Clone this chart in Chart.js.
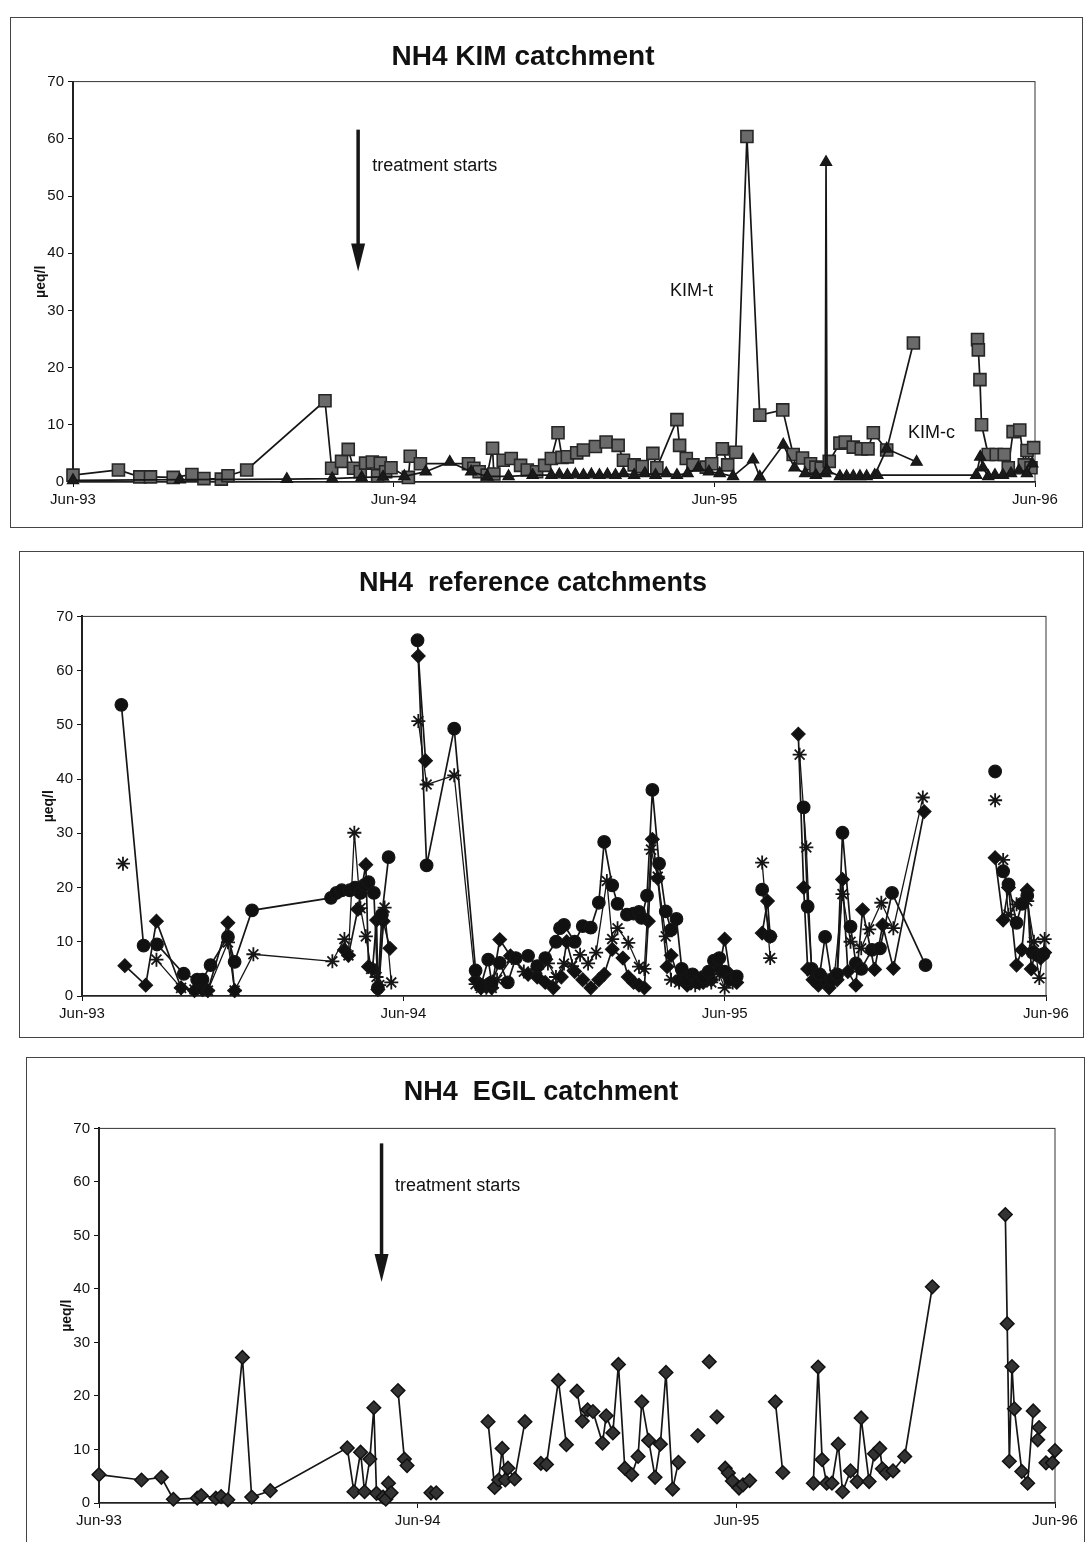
<!DOCTYPE html>
<html lang="en">
<head>
<meta charset="UTF-8">
<title>NH4 catchments</title>
<script src="https://cdn.jsdelivr.net/npm/chart.js"></script>
<style>
  html, body { margin: 0; padding: 0; background: #fff; }
  body { width: 1087px; height: 1542px; position: relative; overflow: hidden; }
  .frame { position: absolute; border: 1px solid #444; box-sizing: border-box; }
  .frame canvas { position: absolute; left: 0; top: 0; }
</style>
</head>
<body>
<div class="frame" style="left:10px;top:17px;width:1073px;height:511px;"><canvas id="kim" width="1071" height="509"></canvas></div>
<div class="frame" style="left:19px;top:551px;width:1065px;height:487px;"><canvas id="ref" width="1063" height="485"></canvas></div>
<div class="frame" style="left:26px;top:1057px;width:1059px;height:500px;"><canvas id="egil" width="1057" height="498"></canvas></div>

<script>
Chart.defaults.font.family = "'Liberation Sans', Arial, sans-serif";
Chart.defaults.color = '#111';

// x values are months after 1 June 1993
const tickLabels = ['Jun-93', 'Jun-94', 'Jun-95', 'Jun-96'];

// KIM catchment
const kimTMonths = [0, 1.7, 2.5, 2.9, 3.75, 4.45, 4.9, 5.55, 5.8, 6.5, 9.43, 9.68, 10.05, 10.3, 10.5, 10.75, 10.95, 11.2, 11.4, 11.5, 11.7, 11.9, 12.55, 12.62, 13.0,
  14.8, 15.0, 15.2, 15.5, 15.7, 15.75, 16.1, 16.4, 16.75, 17.0, 17.35, 17.65, 17.9, 18.15, 18.3, 18.5, 18.85, 19.1, 19.55, 19.95, 20.4, 20.6, 21.0, 21.3, 21.7, 21.85,
  22.6, 22.7, 22.95, 23.2, 23.7, 23.9, 24.3, 24.5, 24.8, 25.22, 25.7, 26.56, 26.95, 27.3, 27.6, 27.8, 28.0, 28.3, 28.7, 28.9, 29.2, 29.5, 29.75, 29.95, 30.45, 31.45,
  32.5, 33.85, 33.88, 33.94, 34.0, 34.25, 34.55, 34.85, 35.0, 35.18, 35.43, 35.6, 35.7, 35.85, 35.95];
const kimTValues = [1.2, 2.1, 0.9, 0.9, 0.8, 1.3, 0.6, 0.5, 1.1, 2.1, 14.2, 2.4, 3.6, 5.7, 2.4, 1.8, 3.3, 3.5, 1.1, 3.3, 1.8, 2.5, 0.8, 4.5, 3.2,
  3.2, 2.4, 1.8, 1.2, 5.9, 1.4, 3.8, 4.1, 2.9, 2.1, 1.8, 2.9, 4.1, 8.6, 4.3, 4.4, 5.1, 5.6, 6.2, 7.0, 6.4, 3.8, 3.0, 2.7, 5.0, 2.5,
  10.9, 6.4, 4.1, 3.0, 2.6, 3.2, 5.8, 3.0, 5.2, 60.4, 11.7, 12.6, 4.8, 4.2, 3.2, 2.6, 2.4, 3.6, 6.8, 7.0, 6.1, 5.8, 5.8, 8.6, 5.6, 24.3,
  null, 24.9, 23.1, 17.9, 10.0, 4.8, 4.8, 4.8, 2.5, 8.8, 9.1, 3.0, 5.5, 2.5, 6.0];
const kimCMonths = [0, 4, 8, 9.7, 10.8, 11.6, 12.4, 13.2, 14.1, 14.9, 15.5, 16.3, 17.2, 17.9, 18.2, 18.5, 18.8, 19.1, 19.4, 19.7, 20.0, 20.3, 20.6, 21.0, 21.4,
  21.8, 22.2, 22.6, 23.0, 23.4, 23.8, 24.2, 24.7, 25.45, 25.7, 26.58, 27.0, 27.4, 27.8, 28.15, 28.18, 28.22, 28.7, 28.95, 29.2, 29.45, 29.7, 30.0, 30.45, 31.57,
  31.6, 30.1, 33.8, 33.95, 34.05, 34.25, 34.5, 34.8, 35.1, 35.4, 35.7, 35.9];
const kimCValues = [0.3, 0.4, 0.5, 0.6, 0.8, 0.9, 1.0, 1.8, 3.5, 1.8, 1.0, 1.0, 1.2, 1.2, 1.3, 1.2, 1.3, 1.2, 1.3, 1.2, 1.3, 1.2, 1.5, 1.2, 1.5,
  1.2, 1.5, 1.2, 1.5, 2.5, 1.8, 1.5, 1.0, 3.9, 0.9, 6.5, 2.5, 1.5, 1.2, 1.5, 55.9, 2.0, 1.0, 1.0, 1.0, 1.0, 1.0, 1.2, 5.8, 3.5,
  null, 1.2, 1.2, 4.4, 2.5, 1.0, 1.2, 1.2, 1.5, 2.0, 1.5, 3.2];

// reference catchments
const refAMonths = [1.47, 2.3, 2.8, 3.8, 4.3, 4.5, 4.8, 5.45, 5.7, 6.35, 9.3, 9.5, 9.7, 10.0, 10.2, 10.4, 10.55, 10.7, 10.9, 11.05, 11.2, 11.45,
  12.0, 12.53, 12.87, 13.9, 14.7, 14.9, 15.17, 15.3, 15.6, 15.9, 16.2, 16.66, 17.0, 17.3, 17.7, 17.85, 18.0, 18.4, 18.7, 19.0, 19.3, 19.5, 19.8, 20.0,
  20.35, 20.6, 20.8, 20.9, 21.1, 21.3, 21.55, 21.8, 22.0, 22.2, 22.4, 22.6, 22.8, 23.0, 23.2, 23.4, 23.6, 23.8, 24.0, 24.2, 24.45,
  25.0, 25.4, 25.7, 26.3, 26.95, 27.1, 27.25, 27.4, 27.55, 27.75, 28.0, 28.2, 28.4, 28.7, 28.9, 29.1, 29.5, 29.8, 30.25, 31.5,
  32.5, 34.1, 34.2, 34.4, 34.6, 34.9, 35.1, 35.3, 35.5, 35.7, 35.9];
const refAValues = [53.7, 9.3, 9.5, 4.1, 3.0, 3.0, 5.7, 10.9, 6.3, 15.8, 18.1, 19.0, 19.5, 19.5, 20.0, 19.0, 20.5, 21.0, 19.0, 1.5, 15.0, 25.6,
  null, 65.6, 24.1, 49.3, 4.7, 2.0, 6.7, 2.5, 6.1, 2.5, 7.0, 7.4, 5.5, 7.0, 10.0, 12.5, 13.1, 10.0, 12.9, 12.6, 17.2, 28.4, 20.4, 17.0,
  15.0, 15.2, 15.5, 14.4, 18.5, 38.0, 24.4, 15.6, 12.2, 14.2, 5.0, 3.0, 4.0, 2.5, 3.5, 4.5, 6.5, 7.0, 4.5, 3.0, 3.6,
  null, 19.6, 11.0, null, 34.8, 16.5, 5.0, 3.0, 4.0, 10.9, 3.0, 4.0, 30.1, 12.8, 6.0, 5.0, 8.5, 8.8, 19.0, 5.7,
  null, 41.4, null, 23.0, 20.6, 13.5, 17.0, 18.5, 8.0, 7.5, 7.7];
const refBMonths = [1.6, 2.38, 2.78, 3.7, 4.2, 4.5, 4.7, 5.45, 5.7, 7.5, 9.8, 9.95, 10.3, 10.6, 10.7, 10.85, 11.0, 11.05, 11.25, 11.5,
  12.0, 12.56, 12.83, 13.5, 14.7, 14.9, 15.1, 15.3, 15.6, 16.0, 16.66, 17.0, 17.3, 17.6, 17.9, 18.1, 18.4, 18.7, 19.0, 19.3, 19.5, 19.8,
  20.2, 20.4, 20.6, 20.8, 21.0, 21.15, 21.3, 21.5, 21.85, 22.0, 22.3, 22.6, 22.9, 23.2, 23.5, 23.8, 24.0, 24.2, 24.45,
  25.0, 25.4, 25.6, 25.7, 26.3, 26.75, 26.95, 27.1, 27.3, 27.5, 27.7, 27.9, 28.2, 28.4, 28.6, 28.9, 29.15, 29.6, 29.9, 30.3, 31.45,
  32.5, 34.1, 34.4, 34.6, 34.9, 35.1, 35.3, 35.45, 35.6, 35.8, 35.95];
const refBValues = [5.6, 2.0, 13.8, 1.5, 1.0, 1.2, 1.0, 13.5, 1.0, null, 8.5, 7.5, 16.0, 24.2, 5.4, 5.0, 14.0, 1.2, 13.8, 8.8,
  null, 62.7, 43.4, null, 3.0, 1.5, 2.0, 1.5, 10.4, 7.4, 4.0, 3.5, 2.5, 1.5, 3.5, 10.0, 4.5, 3.0, 1.5, 3.0, 4.0, 8.6,
  7.0, 3.5, 2.5, 2.0, 1.5, 13.8, 28.9, 21.7, 5.4, 7.5, 3.0, 2.0, 3.0, 2.5, 3.0, 5.0, 10.5, 4.0, 2.5,
  null, 11.6, 17.5, 11.0, null, 48.3, 20.0, 5.0, 3.0, 2.0, 3.0, 1.5, 3.0, 21.5, 4.5, 2.0, 15.9, 4.9, 13.1, 5.1, 34.0,
  null, 25.5, 14.0, 20.0, 5.7, 8.5, 19.5, 5.0, 8.0, 7.0, 8.0];
const refCMonths = [1.53, 2.0, 2.78, 3.7, 4.2, 4.5, 4.7, 5.45, 5.7, 6.4, 9.35, 9.8, 9.95, 10.17, 10.4, 10.6, 10.8, 11.0, 11.1, 11.3, 11.55,
  12.0, 12.56, 12.87, 13.9, 14.7, 14.9, 15.1, 15.3, 15.5, 16.05, 16.5, 17.0, 17.4, 17.7, 18.0, 18.3, 18.6, 18.9, 19.2, 19.6, 19.8, 20.0,
  20.4, 20.8, 21.0, 21.25, 21.5, 21.8, 22.0, 22.3, 22.6, 22.9, 23.2, 23.5, 23.8, 24.0, 24.3,
  25.0, 25.4, 25.7, 26.3, 26.8, 27.05, 27.25, 27.5, 27.8, 28.1, 28.4, 28.7, 29.1, 29.4, 29.85, 30.3, 31.4,
  32.5, 34.1, 34.2, 34.4, 34.6, 34.9, 35.3, 35.55, 35.75, 35.95];
const refCValues = [24.4, null, 6.7, 1.5, 1.2, 1.2, 1.0, 9.9, 1.0, 7.7, 6.4, 10.5, 7.5, 30.1, 16.2, 11.0, 5.0, 3.5, 2.0, 16.3, 2.5,
  null, 50.7, 39.0, 40.7, 2.2, 1.5, 1.5, 1.5, 3.0, 7.0, 4.5, 5.0, 6.0, 3.5, 6.0, 5.5, 7.6, 6.0, 8.0, 21.2, 10.5, 12.5,
  9.8, 5.4, 5.0, 27.0, 22.0, 11.0, 3.0, 2.5, 4.0, 2.0, 3.0, 2.5, 4.0, 1.5, 2.5,
  null, 24.6, 7.0, null, 44.5, 27.4, 4.6, 3.5, 3.0, 4.0, 18.8, 10.0, 8.8, 12.3, 17.2, 12.5, 36.6,
  null, 36.1, null, 25.1, 15.0, 16.9, 17.5, 10.0, 3.3, 10.5];

// EGIL catchment
const egilMonths = [0, 1.6, 2.35, 2.8, 3.7, 3.85, 4.4, 4.6, 4.85, 5.4, 5.75, 6.45, 9.35, 9.6, 9.85, 10.0, 10.2, 10.35, 10.45, 10.7, 10.8, 10.9, 11.0,
  11.1, 11.26, 11.5, 11.6, 12.0, 12.5, 12.7, 13.5, 14.65, 14.9, 15.05, 15.18, 15.3, 15.4, 15.65, 16.04, 16.3, 16.64, 16.85, 17.3, 17.6, 17.8,
  18.0, 18.2, 18.4, 18.6, 18.96, 19.1, 19.35, 19.56, 19.8, 20.06, 20.3, 20.44, 20.7, 20.94, 21.14, 21.35, 21.6, 21.82,
  22.2, 22.55, 22.7, 22.98, 23.1, 23.27, 23.4, 23.58, 23.7, 23.85, 24.1, 24.25, 24.5, 25.0, 25.47, 25.75, 26.3,
  26.9, 27.08, 27.23, 27.4, 27.6, 27.84, 28.0, 28.3, 28.55, 28.7, 29.0, 29.2, 29.4, 29.5, 29.65, 29.9, 30.34, 31.38,
  32.5, 34.13, 34.2, 34.28, 34.38, 34.47, 34.75, 34.97, 35.18, 35.3, 35.35, 35.38, 35.4, 35.5, 35.66, 35.9, 36.0];
const egilValues = [5.3, 4.3, 4.8, 0.7, 0.9, 1.4, 0.9, 1.2, 0.6, 27.2, 1.1, 2.3, 10.3, 2.1, 9.5, 2.1, 8.2, 17.8, 1.8, 1.1, 0.7, 3.7, 1.9,
  null, 21.0, 8.2, 7.0, null, 1.9, 1.9, null, 15.2, 2.9, 4.3, 10.2, 4.3, 6.5, 4.5, 15.2, null, 7.4, 7.2, 22.9, 10.9, null,
  20.9, 15.3, 17.4, 17.1, 11.2, 16.3, 13.1, 25.9, 6.5, 5.3, 8.7, 18.9, 11.7, 4.8, 11.0, 24.4, 2.6, 7.6,
  null, 12.6, null, 26.4, null, 16.1, null, 6.5, 5.6, 4.1, 2.8, 3.4, 4.2, null, 18.9, 5.7, null,
  3.7, 25.4, 8.1, 3.7, 3.7, 11.0, 2.1, 6.0, 4.0, 15.9, 4.0, 9.2, 10.2, 6.4, 5.6, 6.0, 8.7, 40.4,
  null, 53.9, 33.5, 7.8, 25.5, 17.6, 5.9, 3.7, 17.2, null, 11.8, null, 14.1, null, 7.5, 7.5, 9.8];

function pts(months, values) {
  return months.map((m, i) => ({ x: m, y: values[i] }));
}

const lineCol = '#161616';

// plot frame, arrow and free text labels
const frameAndNotes = {
  id: 'frameAndNotes',
  beforeDatasetsDraw(chart) {
    const { ctx, chartArea: a } = chart;
    ctx.save();
    ctx.strokeStyle = '#333';
    ctx.lineWidth = 1;
    ctx.strokeRect(a.left, a.top, a.right - a.left, a.bottom - a.top);
    ctx.restore();
  },
  afterDatasetsDraw(chart, args, opts) {
    const { ctx, scales: { x, y } } = chart;
    (opts.arrows || []).forEach(ar => {
      const px = x.getPixelForValue(ar.x);
      const top = y.getPixelForValue(ar.from);
      const tip = y.getPixelForValue(ar.to);
      ctx.save();
      ctx.strokeStyle = lineCol;
      ctx.fillStyle = lineCol;
      ctx.lineWidth = 3.5;
      ctx.beginPath();
      ctx.moveTo(px, top);
      ctx.lineTo(px, tip - 22);
      ctx.stroke();
      ctx.beginPath();
      ctx.moveTo(px - 7, tip - 28);
      ctx.lineTo(px + 7, tip - 28);
      ctx.lineTo(px, tip);
      ctx.closePath();
      ctx.fill();
      ctx.restore();
    });
    (opts.labels || []).forEach(l => {
      ctx.save();
      ctx.font = "18px 'Liberation Sans', Arial, sans-serif";
      ctx.fillStyle = '#111';
      ctx.textBaseline = 'middle';
      ctx.fillText(l.text, x.getPixelForValue(l.x), y.getPixelForValue(l.y));
      ctx.restore();
    });
  }
};

function makeChart(id, title, datasets, box, notes) {
  return new Chart(document.getElementById(id), {
    type: 'line',
    data: { datasets: datasets },
    options: {
      responsive: false,
      animation: false,
      events: [],
      layout: { padding: { left: 0, right: box.padRight, top: 0, bottom: box.padBottom } },
      plugins: {
        legend: { display: false },
        tooltip: { enabled: false },
        title: {
          display: true, text: title, color: '#111',
          font: { size: box.titleSize, weight: 'bold' },
          padding: { top: box.titleTop, bottom: box.titleBottom }
        },
        frameAndNotes: notes
      },
      scales: {
        x: {
          type: 'linear', min: 0, max: 36,
          afterBuildTicks: s => { s.ticks = [0, 12, 24, 36].map(v => ({ value: v })); },
          afterFit: s => { s.height = 40; },
          ticks: { callback: v => tickLabels[Math.round(v / 12)], font: { size: 15 }, color: '#111', maxRotation: 0, autoSkip: false, padding: 4 },
          grid: { drawOnChartArea: false, tickLength: 5, color: '#111' },
          border: { color: '#111', width: 1.5 }
        },
        y: {
          min: 0, max: 70,
          afterFit: s => { s.width = box.yWidth; },
          ticks: { stepSize: 10, font: { size: 15 }, color: '#111', padding: 4 },
          grid: { drawOnChartArea: false, tickLength: 5, color: '#111' },
          border: { color: '#111', width: 2 },
          title: { display: true, text: 'µeq/l', color: '#111', font: { size: 14, weight: 'bold' }, padding: { top: box.yTitle, bottom: 0 } }
        }
      }
    },
    plugins: [frameAndNotes]
  });
}

function series(data, style, radius, fill, extra) {
  return Object.assign({
    data: data,
    borderColor: lineCol,
    borderWidth: 1.7,
    pointStyle: style,
    pointRadius: radius,
    pointBackgroundColor: fill,
    pointBorderColor: lineCol,
    pointBorderWidth: 1.2,
    tension: 0,
    clip: false
  }, extra || {});
}

makeChart('kim', 'NH4 KIM catchment', [
  series(pts(kimCMonths, kimCValues), 'triangle', 6.5, '#1a1a1a'),
  series(pts(kimTMonths, kimTValues), 'rect', 8.5, '#6a6a6a', { pointBorderColor: '#262626', pointBorderWidth: 1.6 })
], { titleSize: 28, yWidth: 62, padRight: 47, padBottom: 5, titleTop: 22, titleBottom: 8, yTitle: 22 }, {
  arrows: [{ x: 10.67, from: 61.6, to: 36.8 }],
  labels: [
    { text: 'treatment starts', x: 11.2, y: 55.3 },
    { text: 'KIM-t', x: 22.34, y: 33.3 },
    { text: 'KIM-c', x: 31.25, y: 8.6 }
  ]
});

makeChart('ref', 'NH4  reference catchments', [
  series(pts(refAMonths, refAValues), 'circle', 6.3, '#111'),
  series(pts(refBMonths, refBValues), 'rectRot', 6.8, '#111'),
  series(pts(refCMonths, refCValues), 'star', 7, '#111', { pointBorderWidth: 1.8, borderWidth: 1.3 })
], { titleSize: 27, yWidth: 62, padRight: 37, padBottom: 1, titleTop: 15, titleBottom: 17, yTitle: 21 }, {});

makeChart('egil', 'NH4  EGIL catchment', [
  series(pts(egilMonths, egilValues), 'rectRot', 6.8, '#333', { pointBorderColor: '#111', pointBorderWidth: 1.5 })
], { titleSize: 27, yWidth: 72, padRight: 29, padBottom: 13, titleTop: 18, titleBottom: 20, yTitle: 32 }, {
  arrows: [{ x: 10.64, from: 67.2, to: 41.3 }],
  labels: [{ text: 'treatment starts', x: 11.15, y: 59.3 }]
});
</script>
</body>
</html>
